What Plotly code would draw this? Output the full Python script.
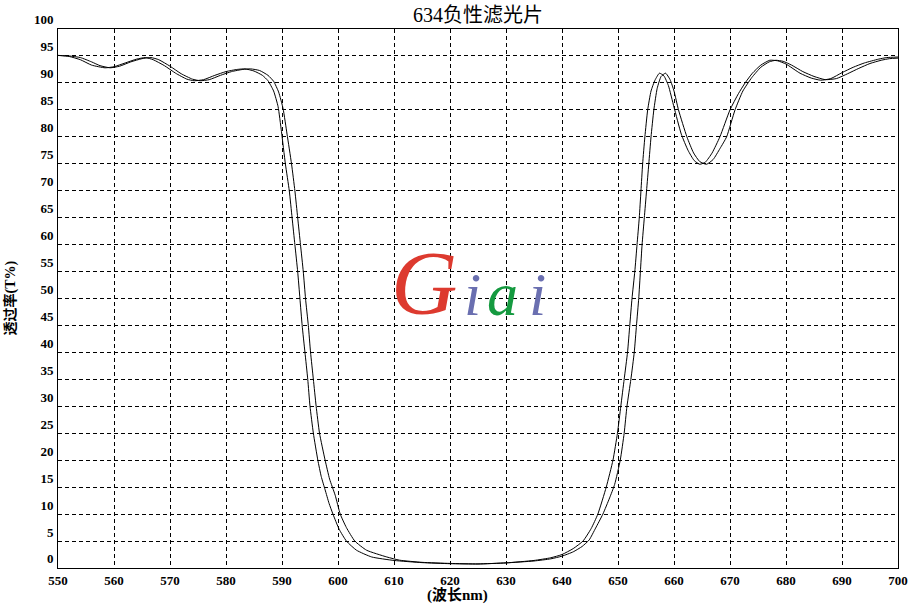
import plotly.graph_objects as go

# ---------------- data ----------------
wl_a = [550, 552, 554, 556, 558.4, 560, 562, 564, 565.6, 567, 569, 571, 573, 574.3, 576, 578, 580, 582,
        583.4, 585, 586.5, 587.5, 588.5, 589.3, 589.9, 590.6, 591.3, 591.8, 592.3, 592.8, 593.2, 593.6,
        594.1, 594.6, 595.0, 595.6, 596.4, 597.0, 597.7, 598.4, 599.1, 600.2, 601.5, 603.3, 606, 610,
        615, 620, 625, 630, 635, 638, 640, 642, 643.75, 645.2, 646.4, 647.9, 649.1, 649.9, 650.5, 651.1,
        651.7, 652.1, 652.5, 653.0, 653.4, 653.8, 654.1, 654.4, 654.8, 655.3, 655.9, 656.6, 657.4, 658.2,
        659, 660, 661.3, 662.5, 663.6, 664.6, 665.6, 666.8, 668.2, 670, 671.5, 672.7, 674, 675.5, 677.1,
        678.5, 680, 682.5, 684.5, 686.2, 688, 690, 692, 694, 696.5, 698, 700]
t_a = [95.1, 94.9, 94.3, 93.3, 92.8, 93.0, 93.7, 94.4, 94.7, 94.3, 93.2, 91.8, 90.7, 90.4, 90.6, 91.4, 92.1, 92.5,
       92.6, 92.2, 91.4, 90.4, 88.5, 85.6, 81, 75, 70, 65, 60, 55, 50, 45,
       40, 35, 30, 25, 20, 17, 14.5, 12, 10, 7.2, 5, 3.3, 2.05, 1.4,
       1.0, 0.8, 0.75, 0.95, 1.4, 1.9, 2.5, 3.6, 5, 7.3, 10, 15, 20, 25, 30, 35,
       40, 45, 50, 55, 60, 65, 70, 75, 80, 85, 88.5, 90.5, 91.8, 91.3,
       89.5, 85.5, 80.5, 77.5, 75.6, 74.9, 75.3, 77, 80, 85, 88, 90, 91.8, 93.3, 94.2,
       94.1, 93.5, 91.8, 90.9, 90.5, 90.8, 91.9, 92.9, 93.7, 94.4, 94.7, 94.8]

wl_b = [550, 552, 554, 556, 557.5, 559.3, 561, 563, 565, 566.6, 568, 570, 572, 574, 575.4, 577, 579, 581,
        583, 584.4, 586, 587.5, 588.5, 589.4, 590.2, 590.9, 591.7, 592.3, 592.8, 593.3, 593.8, 594.2,
        594.7, 595.1, 595.6, 596.1, 596.7, 597.7, 598.5, 599.5, 600.4, 601.5, 603, 605.1, 608.7, 611,
        615, 620, 625, 630, 635, 638, 640, 642, 643.6, 644.85, 646, 647.3, 648.5, 649.4, 650.4, 651.1,
        651.6, 652.3, 652.9, 653.3, 653.7, 654.0, 654.3, 654.7, 655.1, 655.5, 655.9, 656.4, 657.0, 657.7,
        658.5, 659.3, 660, 660.8, 662.3, 663.5, 664.6, 665.8, 667, 668.2, 669.4, 670.9, 672.3, 673.9,
        675.5, 677, 678.2, 679.5, 681, 683, 685, 687, 689, 691, 693, 695, 697, 698.5, 700]
t_b = [95.1, 95.0, 94.7, 93.9, 93.2, 92.8, 93.1, 93.9, 94.5, 94.7, 94.3, 93.1, 91.7, 90.7, 90.4, 90.6, 91.4, 92.1,
       92.5, 92.6, 92.3, 91.4, 90.3, 88.3, 85.2, 80.5, 75, 70, 65, 60, 55, 50,
       45, 40, 35, 30, 25, 20, 16.5, 13.5, 10, 7.5, 5, 3.3, 2.05, 1.45,
       1.05, 0.85, 0.75, 0.95, 1.3, 1.7, 2.2, 3.0, 4.0, 5.2, 7.4, 10, 13, 15.5, 20, 25,
       30, 35, 40, 45, 50, 55, 60, 65, 70, 75, 80, 85, 89, 91.2,
       91.8, 90.6, 88.5, 85, 80, 77, 75.4, 74.9, 75.8, 77.8, 80, 85, 88.5, 91,
       92.9, 93.9, 94.2, 94.0, 93.3, 92.1, 91.2, 90.6, 90.8, 91.7, 92.7, 93.6, 94.2, 94.5, 94.6]

x_ticks = list(range(550, 701, 10))
y_ticks = list(range(0, 101, 5))

title_text = "634负性滤光片"
x_title = "(波长nm)"
y_title = "透过率(T%)"

# ---------------- figure ----------------
fig = go.Figure()
for wl, t in ((wl_a, t_a), (wl_b, t_b)):
    fig.add_trace(go.Scatter(x=wl, y=t, mode="lines", line=dict(color="black", width=1, shape="spline", smoothing=0.5),
                             showlegend=False, hoverinfo="skip"))

W, H = 908, 604
L, R, T, B = 58, 10, 29, 36
pw, ph = W - L - R, H - T - B

fig.update_layout(
    width=W, height=H,
    margin=dict(l=L, r=R, t=T, b=B, autoexpand=False),
    paper_bgcolor="white", plot_bgcolor="white",
    showlegend=False,
    title=dict(text=title_text, x=0.5, xref="paper", xanchor="center", y=1 - 15 / H, yanchor="middle",
               font=dict(family="Liberation Serif, Noto Sans CJK SC", size=20, color="black")),
)

axis_common = dict(showline=True, linecolor="black", linewidth=1, mirror=True,
                   showgrid=True, gridcolor="black", gridwidth=1, griddash="4px,3px",
                   ticks="", zeroline=False, automargin=False,
                   tickfont=dict(family="Liberation Serif", size=13, color="black", weight="bold"))

fig.update_xaxes(range=[550, 700], tickvals=x_ticks, ticktext=[str(v) for v in x_ticks], **axis_common)
fig.update_yaxes(range=[0, 100], tickvals=y_ticks, ticktext=[str(v) for v in y_ticks],
                 ticklabelposition="outside top", ticklabelstandoff=1, **axis_common)

# axis titles
fig.add_annotation(text=x_title, xref="paper", yref="paper", x=(457 - L) / pw, y=-(595 - (H - B)) / ph,
                   showarrow=False, xanchor="center", yanchor="middle",
                   font=dict(family="Liberation Serif, Noto Sans CJK SC", size=15, color="black", weight="bold"))
fig.add_annotation(text=y_title, xref="paper", yref="paper", x=-(L - 10) / pw, y=0.5, textangle=-90,
                   showarrow=False, xanchor="center", yanchor="middle",
                   font=dict(family="Liberation Serif, Noto Sans CJK SC", size=14, color="black", weight="bold"))

# watermark logo
logo = [("G", 424, 92, "#dd3a2f"), ("i", 472, 62, "#6a6fb0"), ("a", 502, 62, "#159a40"), ("i", 537, 62, "#6a6fb0")]
for ch, cx, sz, col in logo:
    fig.add_annotation(text=ch, xref="paper", yref="paper", x=(cx - L) / pw, y=(H - B - 316) / ph,
                       showarrow=False, xanchor="center", yanchor="bottom", yshift=-sz * 0.22,
                       font=dict(family="Liberation Serif", size=sz, color=col, style="italic"))

fig.write_html("out.html", config={"displayModeBar": False},
               post_script="document.body.style.margin='0';document.body.style.overflow='hidden';")
